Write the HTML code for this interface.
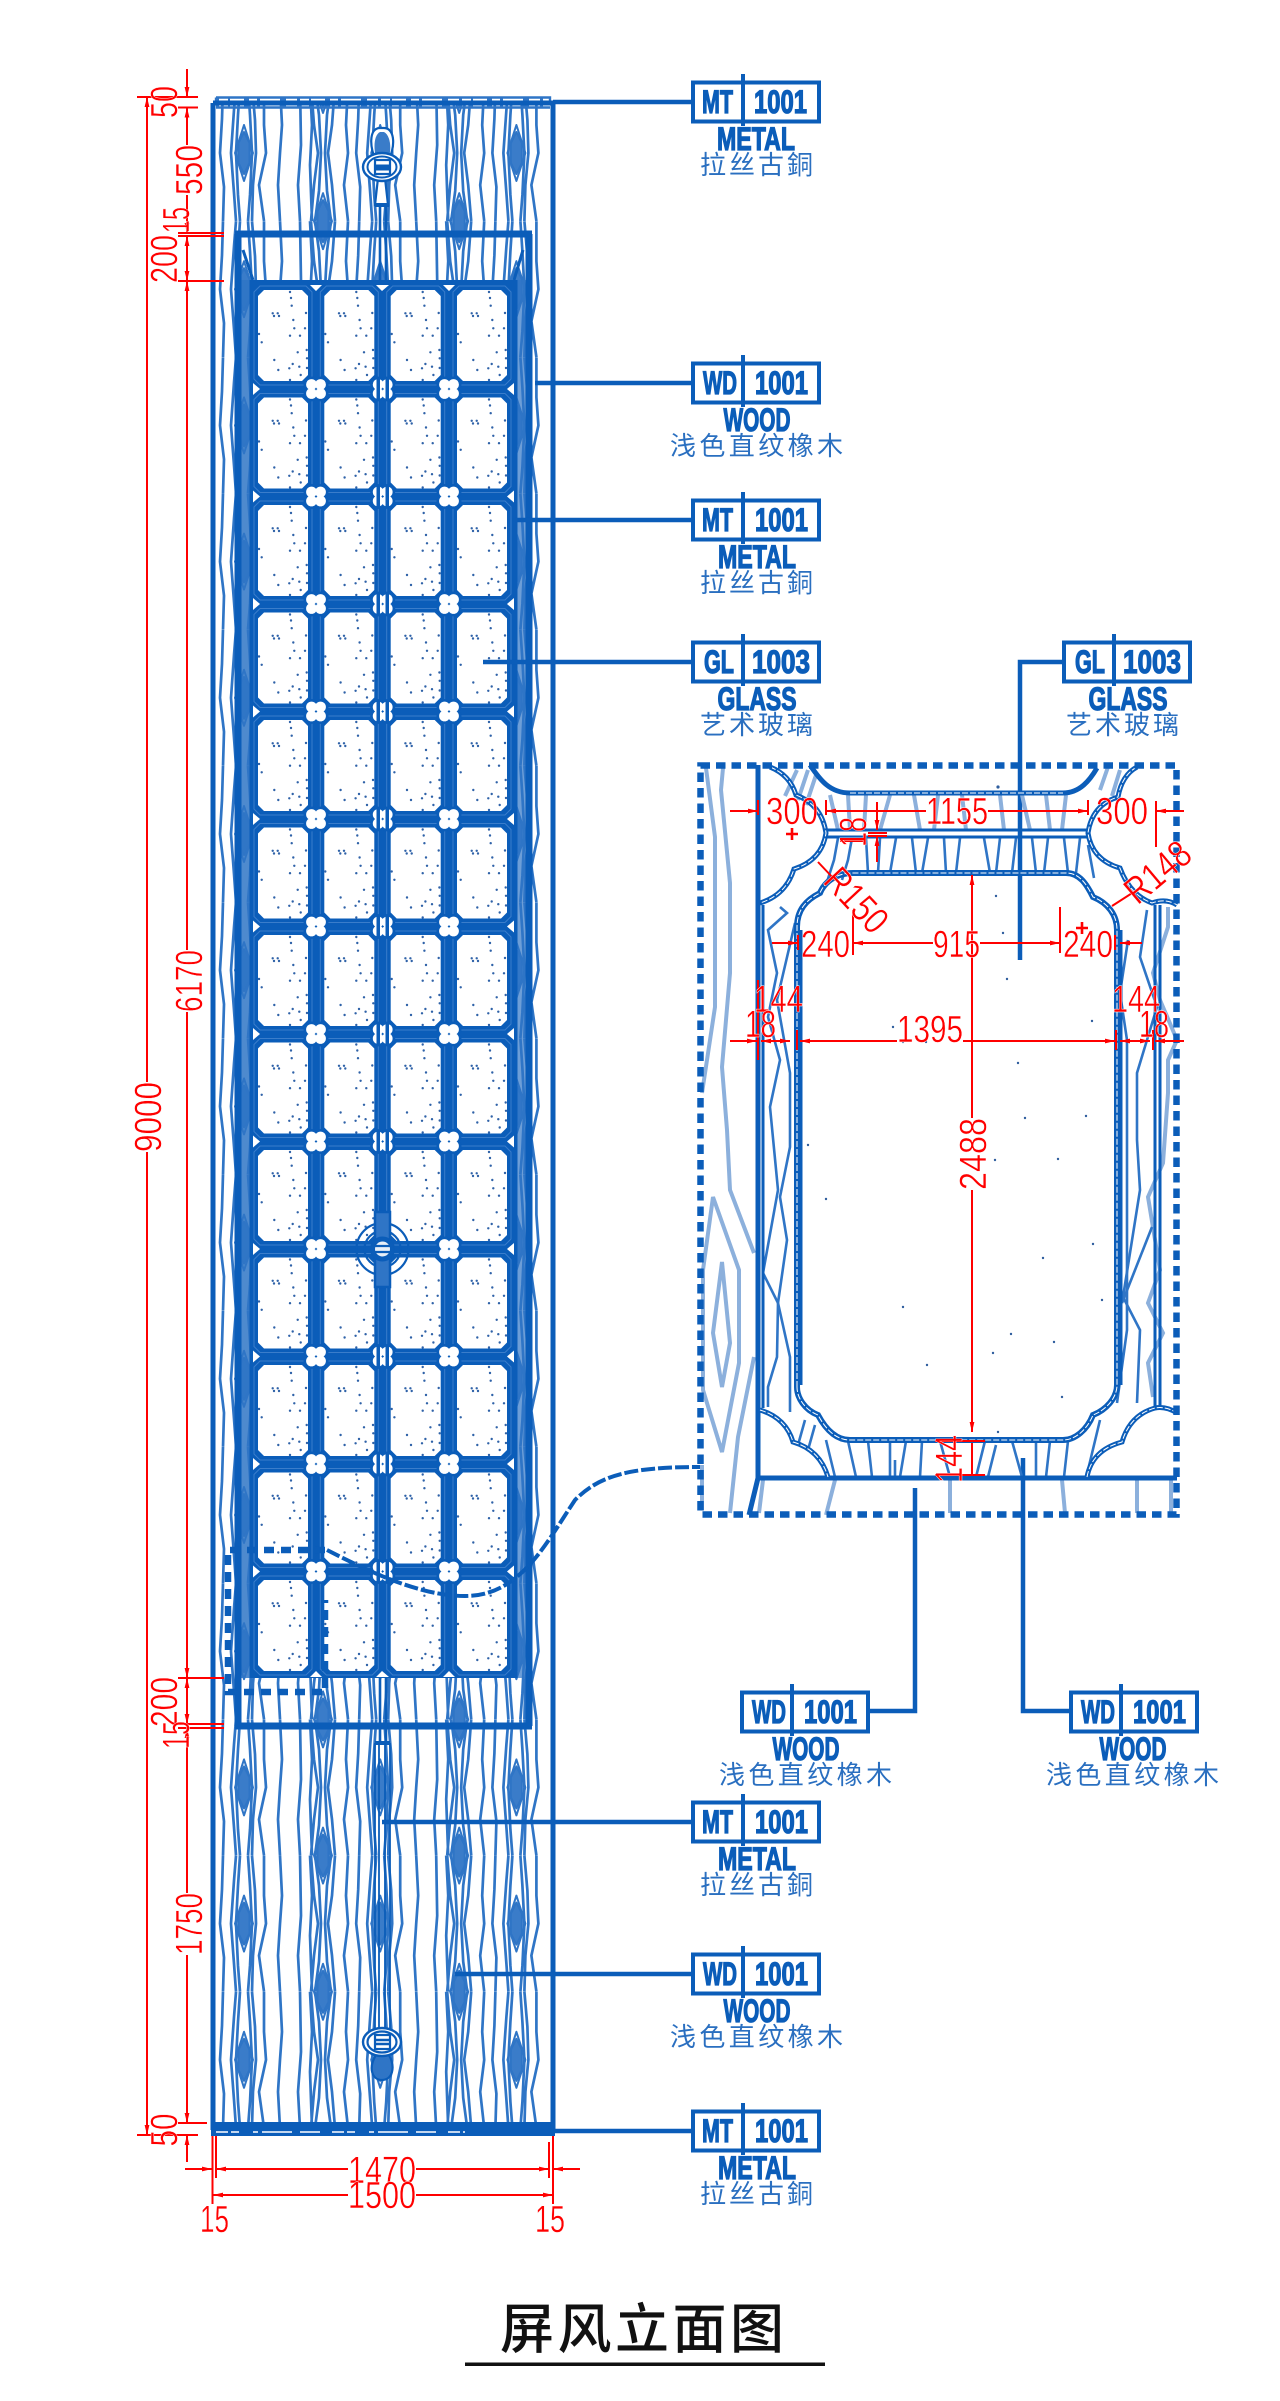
<!DOCTYPE html>
<html><head><meta charset="utf-8"><title>屏风立面图</title>
<style>
html,body{margin:0;padding:0;background:#fff}
svg{display:block}
.r{font-family:"Liberation Sans","Noto Sans CJK SC",sans-serif;fill:#f00;font-size:38px;stroke:#fff;stroke-width:.45}
.c{font-family:"Liberation Sans",sans-serif;font-weight:bold;font-size:32px;fill:#0b5db9;stroke:#0b5db9;stroke-width:1.3}
.e{font-family:"Liberation Sans",sans-serif;font-weight:bold;font-size:32px;fill:#0b5db9;stroke:#0b5db9;stroke-width:1.3;text-anchor:middle}
.z{font-family:"Liberation Sans","Noto Sans CJK SC",sans-serif;font-size:26px;fill:#2a6fc0}
</style></head><body>
<svg width="1280" height="2401" viewBox="0 0 1280 2401" xmlns="http://www.w3.org/2000/svg">
<defs>
<marker id="a" markerWidth="12" markerHeight="6" refX="10" refY="3" orient="auto-start-reverse" markerUnits="userSpaceOnUse"><path d="M0 .6L10 3L0 5.4Z" fill="#f00"/></marker>
<clipPath id="woodclip"><rect x="216" y="104" width="330" height="2020"/></clipPath>
<g id="tile" fill="none" stroke="#2f75c6" stroke-width="2.7" stroke-linejoin="round">
<path d="M-21 0L-22 34L-24 68L-20 102L-21 136M-8 0L-10 25L-13 68L-10 108L-8 136M-4 0L-6 30L-8 68L-6 110L-4 136M4 0L6 30L8 68L6 110L4 136M8 0L11 35L12 68L9 100L8 136M20 0L20 40L22 68L15 100L20 136M36 0L38 40L36 68L34 100L36 136M56 0L57 60L54 100L56 136M66 0L68 40L66 80L68 136M67 0L70 40L74 68L70 100L67 136M71 0L75 30L77 68L75 106L71 136M87 0L83 30L81 68L83 106L87 136M91 0L88 40L84 68L88 100L91 136M104 0L102 40L104 68L100 100L104 136"/>
<path d="M0 47L5.5 58V78L0 89L-5.5 78V58Z" fill="#3a7cc9" stroke-width="2"/>
<path d="M0 40L-9 68L0 96L9 68Z" stroke-width="2"/>
<path d="M79 -21L84.5 -10V10L79 21L73.5 10V-10Z" fill="#3a7cc9" stroke-width="2"/>
<path d="M79 -28L70 0L79 28L88 0Z" stroke-width="2"/>
</g>
<g id="woodrow"><use href="#tile" x="244"/><use href="#tile" x="380.2"/><use href="#tile" x="516.4"/></g>
<g id="cell">
<path d="M-4 2L2 -4H48L54 2V89L48 95H2L-4 89Z" fill="none" stroke="#3a7dcb" stroke-width="1"/>
<path d="M6 0H44L50 6V85L44 91H6L0 85V6Z" fill="#fff"/>
<g fill="#2f62a8"><circle cx="32" cy="2" r="1.2"/><circle cx="33" cy="8" r="1.2"/><circle cx="33.7" cy="15.7" r="1.2"/><circle cx="48" cy="23" r="1.2"/><circle cx="14.7" cy="23.3" r="1.2"/><circle cx="19.7" cy="23.3" r="1.2"/><circle cx="16" cy="26" r="1.2"/><circle cx="21" cy="26" r="1.2"/><circle cx="35.3" cy="30" r="1.2"/><circle cx="36.3" cy="38.3" r="1.2"/><circle cx="47" cy="38.3" r="1.2"/><circle cx="32" cy="45.7" r="1.2"/><circle cx="42" cy="45.7" r="1.2"/><circle cx="1" cy="44" r="1.2"/><circle cx="3.7" cy="52.3" r="1.2"/><circle cx="39.7" cy="62.3" r="1.2"/><circle cx="48.7" cy="60" r="1.2"/><circle cx="49" cy="68.3" r="1.2"/><circle cx="16.3" cy="70" r="1.2"/><circle cx="34.7" cy="74" r="1.2"/><circle cx="31.3" cy="78.3" r="1.2"/><circle cx="41.3" cy="76.7" r="1.2"/><circle cx="20.3" cy="80" r="1.2"/><circle cx="49" cy="78" r="1.2"/><circle cx="42.7" cy="85" r="1.2"/><circle cx="32" cy="90" r="1.2"/></g>
</g>
<g id="row"><use href="#cell" x="258"/><use href="#cell" x="324.3"/><use href="#cell" x="390.7"/><use href="#cell" x="457"/></g>
<g id="qf">
<g fill="#0b5db9"><circle cx="-5" cy="-5" r="7.5"/><circle cx="5" cy="-5" r="7.5"/><circle cx="-5" cy="5" r="7.5"/><circle cx="5" cy="5" r="7.5"/></g>
<g fill="#fff"><circle cx="-4.5" cy="-4.5" r="5.4"/><circle cx="4.5" cy="-4.5" r="5.4"/><circle cx="-4.5" cy="4.5" r="5.4"/><circle cx="4.5" cy="4.5" r="5.4"/></g>
</g>
<g id="xrow">
<path d="M253 -6L260 0L253 6Z" fill="#fff"/><path d="M514 -6L507 0L514 6Z" fill="#fff"/>
<use href="#qf" x="316"/><use href="#qf" x="449"/><use href="#qf" x="382.7"/>
<path d="M376.5 -11h3.5V11h-3.5ZM385.5 -11h3.5V11h-3.5Z" fill="#0b5db9"/>
</g>
</defs>
<rect width="1280" height="2401" fill="#fff"/>

<!-- wood grain -->
<g clip-path="url(#woodclip)">
<use href="#woodrow" y="-51.2"/><use href="#woodrow" y="85"/><use href="#woodrow" y="221.2"/><use href="#woodrow" y="357.4"/><use href="#woodrow" y="493.6"/><use href="#woodrow" y="629.8"/><use href="#woodrow" y="766"/><use href="#woodrow" y="902.2"/><use href="#woodrow" y="1038.4"/><use href="#woodrow" y="1174.6"/><use href="#woodrow" y="1310.8"/><use href="#woodrow" y="1447"/><use href="#woodrow" y="1583.2"/><use href="#woodrow" y="1719.4"/><use href="#woodrow" y="1855.6"/><use href="#woodrow" y="1991.8"/>
</g>

<!-- top band -->
<line x1="216" y1="102" x2="550" y2="102" stroke="#2f75c6" stroke-width="9" stroke-dasharray="3 9 2 14 5 8 3 20 6 11"/>
<path d="M216 97.5H550V104M216 97.5V104M216 107.5H550" fill="none" stroke="#2f75c6" stroke-width="2.4"/>
<!-- outer frame -->
<path d="M213 103H553V2130M213 103V2130" fill="none" stroke="#0b5db9" stroke-width="5"/>
<rect x="211" y="2122" width="344" height="14" fill="#0b5db9"/>
<line x1="216" y1="2132" x2="465" y2="2132" stroke="#fff" stroke-width="1.5" stroke-dasharray="12 3 8 14 5 4 30 8 20 12"/>

<!-- inner frame -->
<rect x="241" y="280" width="9" height="1398" fill="#2f75c6" opacity=".85"/>
<rect x="517" y="280" width="9" height="1398" fill="#2f75c6" opacity=".7"/>
<path d="M235 234H532M235 1726H532" stroke="#0b5db9" stroke-width="7" fill="none"/>
<path d="M238 234V1726M529 234V1726" stroke="#0b5db9" stroke-width="7" fill="none"/>
<path d="M243 250L253 280M523 250L514 280" stroke="#0b5db9" stroke-width="3" fill="none"/>

<!-- hanger top -->
<g fill="none" stroke="#0b5db9" stroke-width="2.2">
<path d="M380 128C368 128 370 150 376 160H388C395 150 396 128 384 128Z" fill="#fff"/>
<path d="M378 178L375 205H388L385 178" fill="#fff"/>
<path d="M380 128C372 132 374 152 378 158H386C392 152 392 132 384 128" fill="#3a7cc9" stroke="none" transform="translate(0 4)"/>
<ellipse cx="382" cy="167" rx="19" ry="14" fill="#fff" stroke-width="2.4"/>
<ellipse cx="382" cy="167" rx="14.5" ry="10.5" stroke-width="2"/>
<rect x="375" y="160" width="15" height="14" fill="#fff"/>
<path d="M375 166H390M375 169H390" stroke-width="3"/>
<path d="M380 205V280M386 205V280" stroke-width="2.6"/>
<path d="M375 205H389" stroke-width="4"/>
</g>

<!-- glass grid -->
<rect x="249.5" y="280" width="268" height="1398" fill="#0b5db9"/>
<use href="#row" y="290"/><use href="#row" y="397.5"/><use href="#row" y="505"/><use href="#row" y="612.5"/><use href="#row" y="720"/><use href="#row" y="827.5"/><use href="#row" y="935"/><use href="#row" y="1042.5"/><use href="#row" y="1150"/><use href="#row" y="1257.5"/><use href="#row" y="1365"/><use href="#row" y="1472.5"/><use href="#row" y="1580"/>
<use href="#xrow" y="389"/><use href="#xrow" y="496.5"/><use href="#xrow" y="604"/><use href="#xrow" y="711.5"/><use href="#xrow" y="819"/><use href="#xrow" y="926.5"/><use href="#xrow" y="1034"/><use href="#xrow" y="1141.5"/><use href="#xrow" y="1356.5"/><use href="#xrow" y="1464"/><use href="#xrow" y="1571.5"/>
<!-- row with clamp (no centre quatrefoil) -->
<path d="M253 1243L260 1249L253 1255ZM514 1243L507 1249L514 1255Z" fill="#fff"/>
<use href="#qf" x="316" y="1249"/><use href="#qf" x="449" y="1249"/>
<path d="M310 285H322L316 291ZM376 285H389L382 291ZM443 285H455L449 291ZM310 1677H322L316 1671ZM376 1677H389L382 1671ZM443 1677H455L449 1671Z" fill="#fff"/>
<!-- clamp -->
<g fill="none" stroke="#0b5db9">
<circle cx="382.5" cy="1249" r="26" stroke-width="2.2"/>
<circle cx="382.5" cy="1249" r="18" stroke-width="2.2"/>
<rect x="375" y="1212" width="15" height="75" fill="#2f75c6" stroke-width="2.5"/>
<circle cx="382.5" cy="1249" r="12" fill="#0b5db9" stroke-width="1"/>
</g>
<circle cx="382.5" cy="1249" r="7.5" fill="#fff" opacity=".9"/>
<path d="M375 1246H390M375 1252H390" stroke="#0b5db9" stroke-width="2.2"/>

<!-- hanger bottom -->
<g fill="none" stroke="#0b5db9" stroke-width="2.2">
<path d="M380 1678V1743M386 1678V1743" stroke-width="2.6"/>
<path d="M375 1743H390" stroke-width="4"/>
<path d="M375 1743V2030M390 1743V2030M379 1743V2030M385 1743V2030" stroke-width="1.8"/>
<path d="M376 2055C368 2068 372 2080 382 2080C392 2080 396 2068 389 2055Z" fill="#2f75c6"/>
<ellipse cx="382" cy="2042" rx="19" ry="14" fill="#fff" stroke-width="2.4"/>
<ellipse cx="382" cy="2042" rx="14.5" ry="10.5"/>
<rect x="375" y="2035" width="15" height="14" fill="#fff"/>
<path d="M375 2040H390M375 2044H390" stroke-width="2.6"/>
</g>

<!-- selection dashed + curve -->
<path d="M325 1550H228V1692H325V1600" fill="none" stroke="#0b5db9" stroke-width="6.5" stroke-dasharray="10 7"/>
<path d="M327 1550C370 1572 420 1596 465 1596C520 1596 545 1545 575 1500C600 1475 630 1467 700 1467" fill="none" stroke="#0b5db9" stroke-width="4" stroke-dasharray="14 3"/>

<!-- leaders -->
<path d="M553 102H693M535 383H694M515 520H694M483 662H694M1020 960V662H1064M382 1822H693M455 1974H693M553 2131H693M915 1488V1711H869M1023 1458V1711H1071" fill="none" stroke="#0b5db9" stroke-width="4.5"/>

<!-- tags -->
<g id="tags" fill="#fff" stroke="#0b5db9" stroke-width="4">
<rect x="693" y="82.5" width="126" height="39"/><rect x="693" y="363.5" width="126" height="39"/><rect x="693" y="500.5" width="126" height="39"/><rect x="693" y="642.5" width="126" height="39"/><rect x="1064" y="642.5" width="126" height="39"/><rect x="693" y="1802.5" width="126" height="39"/><rect x="693" y="1954.5" width="126" height="39"/><rect x="693" y="2111.5" width="126" height="39"/><rect x="742" y="1692.5" width="126" height="39"/><rect x="1071" y="1692.5" width="126" height="39"/>
</g>
<path d="M743 74V126M743 355V407M743 492V544M743 634V686M1114 634V686M743 1794V1846M743 1946V1998M743 2103V2155M792 1684V1736M1121 1684V1736" stroke="#0b5db9" stroke-width="4" fill="none"/>

<text class="c" x="702" y="113" textLength="31" lengthAdjust="spacingAndGlyphs">MT</text><text class="c" x="754" y="113" textLength="53" lengthAdjust="spacingAndGlyphs">1001</text>
<text class="e" x="756" y="150" textLength="78" lengthAdjust="spacingAndGlyphs">METAL</text><text class="z" x="700" y="174" textLength="113">拉丝古銅</text>

<text class="c" x="703" y="394" textLength="34" lengthAdjust="spacingAndGlyphs">WD</text><text class="c" x="755" y="394" textLength="53" lengthAdjust="spacingAndGlyphs">1001</text>
<text class="e" x="757" y="431" textLength="67" lengthAdjust="spacingAndGlyphs">WOOD</text><text class="z" x="670" y="455" textLength="173">浅色直纹橡木</text>

<text class="c" x="702" y="531" textLength="31" lengthAdjust="spacingAndGlyphs">MT</text><text class="c" x="755" y="531" textLength="53" lengthAdjust="spacingAndGlyphs">1001</text>
<text class="e" x="757" y="568" textLength="78" lengthAdjust="spacingAndGlyphs">METAL</text><text class="z" x="700" y="592" textLength="113">拉丝古銅</text>

<text class="c" x="704" y="673" textLength="30" lengthAdjust="spacingAndGlyphs">GL</text><text class="c" x="752" y="673" textLength="58" lengthAdjust="spacingAndGlyphs">1003</text>
<text class="e" x="757" y="710" textLength="79" lengthAdjust="spacingAndGlyphs">GLASS</text><text class="z" x="700" y="734" textLength="113">艺术玻璃</text>

<text class="c" x="1075" y="673" textLength="30" lengthAdjust="spacingAndGlyphs">GL</text><text class="c" x="1123" y="673" textLength="58" lengthAdjust="spacingAndGlyphs">1003</text>
<text class="e" x="1128" y="710" textLength="79" lengthAdjust="spacingAndGlyphs">GLASS</text><text class="z" x="1066" y="734" textLength="113">艺术玻璃</text>

<text class="c" x="702" y="1833" textLength="31" lengthAdjust="spacingAndGlyphs">MT</text><text class="c" x="755" y="1833" textLength="53" lengthAdjust="spacingAndGlyphs">1001</text>
<text class="e" x="757" y="1870" textLength="78" lengthAdjust="spacingAndGlyphs">METAL</text><text class="z" x="700" y="1894" textLength="113">拉丝古銅</text>

<text class="c" x="703" y="1985" textLength="34" lengthAdjust="spacingAndGlyphs">WD</text><text class="c" x="755" y="1985" textLength="53" lengthAdjust="spacingAndGlyphs">1001</text>
<text class="e" x="757" y="2022" textLength="67" lengthAdjust="spacingAndGlyphs">WOOD</text><text class="z" x="670" y="2046" textLength="173">浅色直纹橡木</text>

<text class="c" x="702" y="2142" textLength="31" lengthAdjust="spacingAndGlyphs">MT</text><text class="c" x="755" y="2142" textLength="53" lengthAdjust="spacingAndGlyphs">1001</text>
<text class="e" x="757" y="2179" textLength="78" lengthAdjust="spacingAndGlyphs">METAL</text><text class="z" x="700" y="2203" textLength="113">拉丝古銅</text>

<text class="c" x="752" y="1723" textLength="34" lengthAdjust="spacingAndGlyphs">WD</text><text class="c" x="804" y="1723" textLength="53" lengthAdjust="spacingAndGlyphs">1001</text>
<text class="e" x="806" y="1760" textLength="67" lengthAdjust="spacingAndGlyphs">WOOD</text><text class="z" x="719" y="1784" textLength="173">浅色直纹橡木</text>

<text class="c" x="1081" y="1723" textLength="34" lengthAdjust="spacingAndGlyphs">WD</text><text class="c" x="1133" y="1723" textLength="53" lengthAdjust="spacingAndGlyphs">1001</text>
<text class="e" x="1133" y="1760" textLength="67" lengthAdjust="spacingAndGlyphs">WOOD</text><text class="z" x="1046" y="1784" textLength="173">浅色直纹橡木</text>

<!-- detail panel: light grain -->
<g fill="none" stroke="#8cb0dc" stroke-width="4">
<path d="M706 768L715 837V1007L702 1093"/>
<path d="M723 768L721 790L730 883V973L722 1067L727 1130L730 1190L754 1253"/>
<path d="M713 1197L739 1270V1363L722 1452L703 1390V1270Z"/>
<path d="M722 1262L730 1343L722 1387L713 1333Z"/>
<path d="M754 1357L738 1437L730 1513M702 1465V1510M763 1480L759 1513M835 1480L826 1515M950 1480V1513M1062 1480L1065 1513M1137 1480V1513M1171 1480V1513"/>
<path d="M797 770L785 796M808 770L798 800M816 775L806 805M1108 767L1100 790M1120 770L1112 796"/>
<path d="M830 795L838 830M848 795L850 830M866 795L864 830M890 795L880 830M914 795L920 830M938 795L934 830M962 795L966 830M1000 795L1004 830M1022 795L1030 830M1046 795L1050 830M1066 795L1062 830"/>
<path d="M1168 907V927L1153 973L1160 1000L1177 1040L1168 1060V1093L1163 1163L1148 1197L1160 1270L1148 1303L1163 1333L1148 1363L1153 1397"/>
</g>
<!-- detail panel: blue grain -->
<g fill="none" stroke="#2f75c6" stroke-width="2.6">
<path d="M838 838L834 860L826 885M852 838L848 860L842 880M866 838L868 873M880 838L878 873M896 838L890 873M912 838L916 873M928 838L922 873M944 838L946 873M960 838L956 873M984 838L990 873M1000 838L996 873M1016 838L1012 873M1032 838L1036 873M1048 838L1044 873M1064 838L1068 873M1080 838L1076 873M1088 845L1094 878"/>
<path d="M780 907L787 913L768 930L777 973L768 1017L780 1060L770 1107L778 1190L763 1273L778 1303L777 1357L768 1387V1407"/>
<path d="M795 923L777 1000L790 1073V1117L790 1147L780 1197L787 1240L778 1303L790 1357V1412"/>
<path d="M1128 940L1120 993L1127 1040V1107L1127 1180V1330L1117 1403"/>
<path d="M1147 910L1140 957L1157 1007L1137 1073V1140L1140 1190L1123 1297L1140 1330L1137 1403"/>
<path d="M1152 1227L1122 1303"/>
<path d="M805 1420L798 1445M815 1425L808 1450M826 1440L835 1477M848 1441L856 1477M868 1441L872 1477M890 1441V1477M906 1441L900 1477M895 1460V1477M922 1441L920 1477M940 1441L950 1477M985 1441L976 1477M996 1445L988 1477M1012 1441L1022 1477M1036 1441V1477M1050 1441L1046 1477M1068 1441L1064 1477M1100 1420L1088 1470"/>
</g>
<!-- detail panel: dark structure -->
<g fill="none" stroke="#0b5db9">
<path d="M758 765V1478H1177M758 1478L749 1515" stroke-width="5"/>
<path d="M763 905V1408M1155 905V1408M1160 905V1408M801 930V1385M1121 930V1385" stroke-width="3"/>
<path d="M797 1387V927C797 910 806 900 820 893C824 883 835 873 853 873H1066C1080 873 1087 885 1093 897C1108 903 1117 915 1117 930V1385C1117 1398 1106 1410 1093 1415C1087 1430 1075 1440 1063 1440H850C835 1440 825 1428 818 1415C805 1410 797 1398 797 1387Z" stroke-width="6"/>
<path d="M826 830H1088M826 837H1088" stroke-width="3"/>
<path d="M850 793H1063M1063 793C1080 793 1090 780 1097 768M850 793C830 793 820 780 810 765" stroke-width="5"/>
<path d="M770 767Q790 775 796 795Q822 805 826 833Q822 860 794 869Q786 895 760 903M1137 767Q1122 775 1118 797Q1092 805 1088 833Q1092 860 1120 868Q1130 895 1152 903Q1166 898 1177 905M760 1410Q786 1418 793 1442Q820 1450 828 1477M1087 1477Q1092 1450 1122 1442Q1130 1415 1155 1408Q1166 1406 1177 1413" stroke-width="5"/>
<path d="M828 1478H1087" stroke-width="3"/>
</g>
<g fill="none" stroke="#fff" stroke-width="1" stroke-dasharray="6 2">
<path d="M770 767Q790 775 796 795Q822 805 826 833Q822 860 794 869Q786 895 760 903M1137 767Q1122 775 1118 797Q1092 805 1088 833Q1092 860 1120 868Q1130 895 1152 903Q1166 898 1177 905M760 1410Q786 1418 793 1442Q820 1450 828 1477M1087 1477Q1092 1450 1122 1442Q1130 1415 1155 1408Q1166 1406 1177 1413"/>
<path d="M797 1387V927C797 910 806 900 820 893C824 883 835 873 853 873H1066C1080 873 1087 885 1093 897C1108 903 1117 915 1117 930V1385C1117 1398 1106 1410 1093 1415C1087 1430 1075 1440 1063 1440H850C835 1440 825 1428 818 1415C805 1410 797 1398 797 1387Z"/>
<path d="M850 793H1063"/>
</g>
<g fill="#2f5e9e"><circle cx="998" cy="787" r="1.6"/><circle cx="996" cy="896" r="1.2"/><circle cx="1003" cy="933" r="1.2"/><circle cx="1007" cy="979" r="1.2"/><circle cx="1092" cy="1021" r="1.2"/><circle cx="893" cy="1027" r="1.2"/><circle cx="903" cy="1042" r="1.2"/><circle cx="926" cy="1042" r="1.2"/><circle cx="1018" cy="1063" r="1.2"/><circle cx="1025" cy="1118" r="1.2"/><circle cx="1086" cy="1116" r="1.2"/><circle cx="808" cy="1145" r="1.2"/><circle cx="995" cy="1160" r="1.2"/><circle cx="1058" cy="1159" r="1.2"/><circle cx="826" cy="1199" r="1.2"/><circle cx="1093" cy="1244" r="1.2"/><circle cx="1043" cy="1258" r="1.2"/><circle cx="903" cy="1307" r="1.2"/><circle cx="1102" cy="1300" r="1.2"/><circle cx="1011" cy="1334" r="1.2"/><circle cx="1054" cy="1342" r="1.2"/><circle cx="993" cy="1353" r="1.2"/><circle cx="927" cy="1365" r="1.2"/><circle cx="1062" cy="1397" r="1.2"/><circle cx="998" cy="1432" r="1.2"/></g>
<rect x="700.5" y="765.5" width="476" height="749" fill="none" stroke="#0b5db9" stroke-width="6.5" stroke-dasharray="9.5 6"/>

<!-- red dimensions: main -->
<g fill="none" stroke="#f00" stroke-width="2">
<path d="M147 97V1082" marker-start="url(#a)"/><path d="M147 1152V2135" marker-end="url(#a)"/>
<path d="M187 69V97" marker-end="url(#a)"/><path d="M187 107.5V145" marker-start="url(#a)"/><path d="M187 195V233" marker-end="url(#a)"/>
<path d="M187 236V281" marker-start="url(#a)" marker-end="url(#a)"/><path d="M187 281V950" marker-start="url(#a)"/><path d="M187 1012V1678" marker-end="url(#a)"/>
<path d="M187 1678V1724" marker-start="url(#a)" marker-end="url(#a)"/><path d="M187 1728V1893" marker-start="url(#a)"/><path d="M187 1955V2123" marker-end="url(#a)"/><path d="M187 2162V2135" marker-end="url(#a)"/>
<path d="M137 97H198M178 107.5H198M178 233H224M178 236H224M178 281H224M178 1678H224M178 1724H224M178 1728H224M178 2123H207M137 2135H198"/>
<path d="M212.5 2136V2204M553 2136V2204M216 2136V2178M549 2142V2178"/>
<path d="M185 2169H212" marker-end="url(#a)"/><path d="M216 2169H348" marker-start="url(#a)"/><path d="M416 2169H549" marker-end="url(#a)"/><path d="M580 2169H553" marker-end="url(#a)"/>
<path d="M213 2195H348" marker-start="url(#a)"/><path d="M416 2195H553" marker-end="url(#a)"/>
</g>
<text class="r" text-anchor="middle" transform="translate(161 1117) rotate(-90)" textLength="70" lengthAdjust="spacingAndGlyphs">9000</text>
<text class="r" text-anchor="middle" transform="translate(202 981) rotate(-90)" textLength="62" lengthAdjust="spacingAndGlyphs">6170</text>
<text class="r" text-anchor="middle" transform="translate(202 170) rotate(-90)" textLength="50" lengthAdjust="spacingAndGlyphs">550</text>
<text class="r" text-anchor="middle" transform="translate(177 102) rotate(-90)" textLength="32" lengthAdjust="spacingAndGlyphs">50</text>
<text class="r" text-anchor="middle" transform="translate(177 259) rotate(-90)" textLength="48" lengthAdjust="spacingAndGlyphs">200</text>
<text class="r" text-anchor="middle" transform="translate(189 220) rotate(-90)" textLength="26" lengthAdjust="spacingAndGlyphs">15</text>
<text class="r" text-anchor="middle" transform="translate(177 1702) rotate(-90)" textLength="50" lengthAdjust="spacingAndGlyphs">200</text>
<text class="r" text-anchor="middle" transform="translate(189 1735) rotate(-90)" textLength="28" lengthAdjust="spacingAndGlyphs">15</text>
<text class="r" text-anchor="middle" transform="translate(202 1924) rotate(-90)" textLength="62" lengthAdjust="spacingAndGlyphs">1750</text>
<text class="r" text-anchor="middle" transform="translate(177 2130) rotate(-90)" textLength="33" lengthAdjust="spacingAndGlyphs">50</text>
<text class="r" x="348" y="2183" textLength="68" lengthAdjust="spacingAndGlyphs">1470</text>
<text class="r" x="348" y="2208" textLength="68" lengthAdjust="spacingAndGlyphs">1500</text>
<text class="r" x="200" y="2232" textLength="29" lengthAdjust="spacingAndGlyphs">15</text>
<text class="r" x="535" y="2232" textLength="30" lengthAdjust="spacingAndGlyphs">15</text>

<!-- red dimensions: detail -->
<g fill="none" stroke="#f00" stroke-width="2">
<path d="M730 811H758" marker-end="url(#a)"/><path d="M826 811H926" marker-start="url(#a)"/><path d="M988 811H1088" marker-end="url(#a)"/><path d="M1184 811H1156" marker-end="url(#a)"/>
<path d="M758 800V815M826 800V815M1088 800V815M1156 801V847"/>
<path d="M772 943H798" marker-end="url(#a)"/><path d="M853 943H933" marker-start="url(#a)"/><path d="M980 943H1060" marker-end="url(#a)"/><path d="M1142 943H1120" marker-end="url(#a)"/>
<path d="M798 935V950M853 910V955M1060 907V953M1115 935V950"/>
<path d="M730 1041H757" marker-end="url(#a)"/><path d="M761 1041H790" marker-start="url(#a)" marker-end="url(#a)"/><path d="M800 1041H897" marker-start="url(#a)"/><path d="M963 1041H1115" marker-end="url(#a)"/><path d="M1120 1041H1150" marker-start="url(#a)" marker-end="url(#a)"/><path d="M1184 1041H1155" marker-end="url(#a)"/>
<path d="M758 980V1060M797 1030V1050M1116 1030V1050M1153 1030V1050"/>
<path d="M972 1118V875" marker-end="url(#a)"/><path d="M972 1190V1432" marker-end="url(#a)"/>
<path d="M935 1441H985M935 1475H985M972 1443V1474" />
<path d="M877 802V830" marker-end="url(#a)"/><path d="M877 862V836" marker-end="url(#a)"/>
<path d="M840 841H866M868 833H887M868 836H887" />
<path d="M818 862L835 880M1112 906L1140 888" />
<path d="M786 834H798M792 828V840M1076 928H1088M1082 922V934" stroke-width="2.6"/>
</g>
<text class="r" x="766" y="824" textLength="52" lengthAdjust="spacingAndGlyphs">300</text>
<text class="r" x="926" y="824" textLength="62" lengthAdjust="spacingAndGlyphs">1155</text>
<text class="r" x="1096" y="824" textLength="52" lengthAdjust="spacingAndGlyphs">300</text>
<text class="r" x="801" y="957" textLength="49" lengthAdjust="spacingAndGlyphs">240</text>
<text class="r" x="933" y="957" textLength="47" lengthAdjust="spacingAndGlyphs">915</text>
<text class="r" x="1063" y="957" textLength="50" lengthAdjust="spacingAndGlyphs">240</text>
<text class="r" x="754" y="1012" textLength="49" lengthAdjust="spacingAndGlyphs">144</text>
<text class="r" x="745" y="1037" textLength="31" lengthAdjust="spacingAndGlyphs">18</text>
<text class="r" x="897" y="1042" textLength="66" lengthAdjust="spacingAndGlyphs">1395</text>
<text class="r" x="1112" y="1012" textLength="48" lengthAdjust="spacingAndGlyphs">144</text>
<text class="r" x="1139" y="1037" textLength="30" lengthAdjust="spacingAndGlyphs">18</text>
<text class="r" text-anchor="middle" transform="translate(986 1154) rotate(-90)" textLength="72" lengthAdjust="spacingAndGlyphs">2488</text>
<text class="r" text-anchor="middle" transform="translate(962 1459) rotate(-90)" textLength="48" lengthAdjust="spacingAndGlyphs">144</text>
<text class="r" text-anchor="middle" transform="translate(866 832) rotate(-90)" textLength="30" lengthAdjust="spacingAndGlyphs">18</text>
<text class="r" text-anchor="middle" transform="translate(847 909) rotate(47)" textLength="74" lengthAdjust="spacingAndGlyphs">R150</text>
<text class="r" text-anchor="middle" transform="translate(1166 882) rotate(-40)" textLength="74" lengthAdjust="spacingAndGlyphs">R148</text>

<!-- title -->
<text x="500" y="2348" font-family="'Liberation Sans','Noto Sans CJK SC',sans-serif" font-size="54" font-weight="500" fill="#111" textLength="284">屏风立面图</text>
<rect x="465" y="2362.5" width="360" height="3.5" fill="#111"/>
</svg>
</body></html>
